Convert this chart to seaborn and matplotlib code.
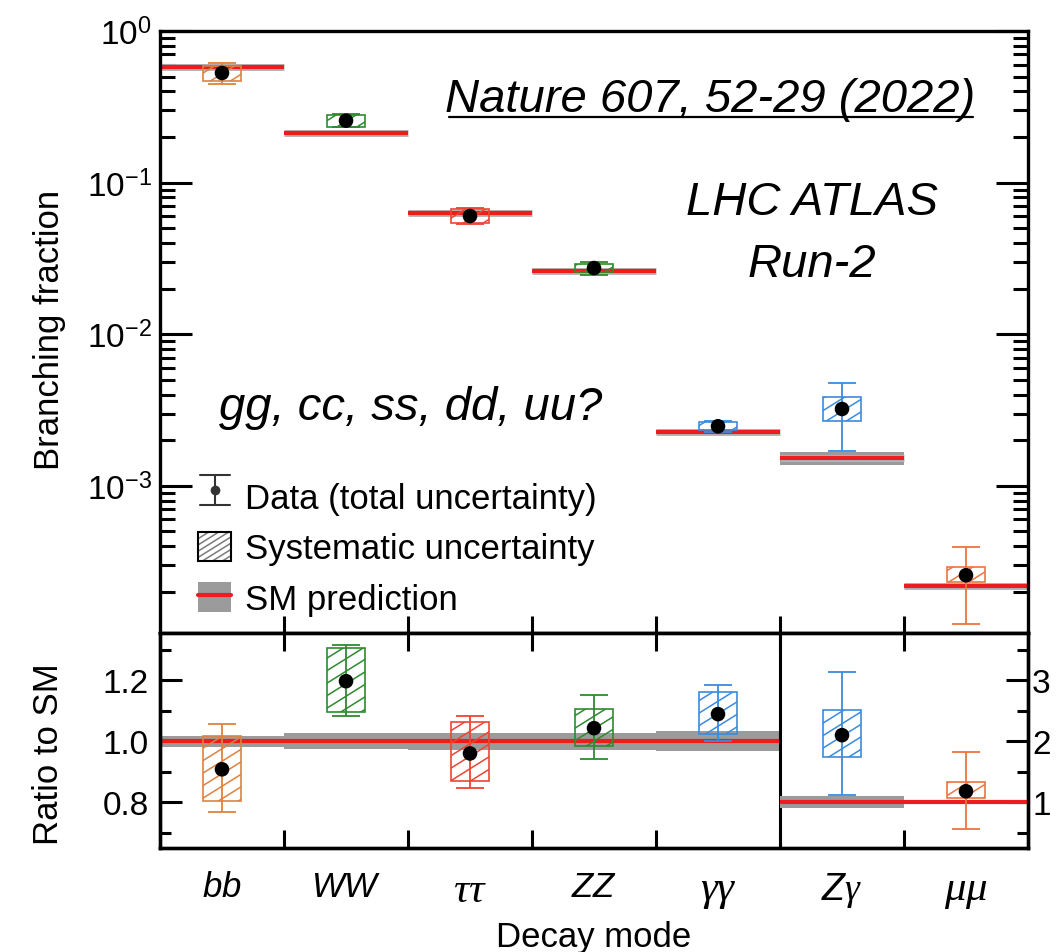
import numpy as np
import pandas as pd
import matplotlib
matplotlib.use("Agg")
import matplotlib.pyplot as plt
import matplotlib.patheffects as pe
import matplotlib.hatch as mhatch
import seaborn as sns
from matplotlib.path import Path
from matplotlib.lines import Line2D
from matplotlib.patches import Patch
from matplotlib.legend_handler import HandlerTuple
from matplotlib.ticker import FixedLocator, LogLocator, NullFormatter

# Decay modes and the colour used for each measurement
modes = ["bb", "WW", "ττ", "ZZ", "γγ", "Zγ", "μμ"]
mode_labels = [r"$\mathsf{bb}$", r"$\mathsf{WW}$", r"$\tau\tau$", r"$\mathsf{ZZ}$",
               r"$\gamma\gamma$", r"$\mathsf{Z}\gamma$", r"$\mu\mu$"]
mode_label_sizes = [25, 25, 31, 25, 31, 27, 31]
mode_colors = ["#DE8240", "#2E8B2E", "#EE4433", "#2E8B2E", "#3B8BDD", "#3B8BDD", "#EC7442"]

# Standard Model branching fractions and relative theory uncertainties
sm_br = [0.582, 0.214, 0.0627, 0.0262, 0.00227, 0.00153, 0.000218]
sm_rel_unc = [0.018, 0.026, 0.028, 0.028, 0.033, 0.10, 0.017]

# Measured ratio to SM: central value, total and systematic intervals
mu = [0.908, 1.197, 0.960, 1.043, 1.089, 2.10, 1.18]
mu_tot_lo = [0.767, 1.082, 0.846, 0.941, 1.000, 1.115, 0.56]
mu_tot_hi = [1.056, 1.315, 1.082, 1.151, 1.184, 3.13, 1.82]
mu_sys_lo = [0.803, 1.095, 0.869, 0.984, 1.023, 1.75, 1.07]
mu_sys_hi = [1.016, 1.305, 1.062, 1.105, 1.161, 2.51, 1.34]

# Tick values / labels
br_ticks = [1, 0.1, 0.01, 0.001]
br_tick_labels = [r"$10^{0}$", r"$10^{-1}$", r"$10^{-2}$", r"$10^{-3}$"]
ratio_ticks_left = [0.8, 1.0, 1.2]
ratio_minor_left = [0.7, 0.9, 1.1, 1.3]
ratio_ticks_right = [1, 2, 3]
ratio_minor_right = [0.5, 1.5, 2.5, 3.5]

N_LEFT = 5  # modes shown against the left ratio scale

df = pd.DataFrame({
    "mode": modes, "color": mode_colors, "pos": np.arange(len(modes)),
    "sm": sm_br, "sm_unc": sm_rel_unc, "mu": mu,
    "tot_lo": mu_tot_lo, "tot_hi": mu_tot_hi,
    "sys_lo": mu_sys_lo, "sys_hi": mu_sys_hi,
})
# measured branching fraction = ratio x SM prediction
for col in ["mu", "tot_lo", "tot_hi", "sys_lo", "sys_hi"]:
    df["br_" + col] = df[col] * df["sm"]


# Shallower "/" hatch (slope 5/8 instead of 45 degrees)
class ShallowNorthEastHatch(mhatch.HatchPatternBase):
    SLOPE = 5 / 8

    def __init__(self, hatch, density):
        count = hatch.count("/") + hatch.count("x") + hatch.count("X")
        n = int(round(count * density * 2 / 3))
        self.n = 8 * int(np.ceil(n / 8)) if n else 0
        if self.n:
            self.k0 = -int(np.ceil(self.SLOPE * self.n))
            self.num_lines = self.n - self.k0 + 1
        else:
            self.k0 = 0
            self.num_lines = 0
        self.num_vertices = self.num_lines * 2

    def set_vertices_and_codes(self, vertices, codes):
        c = np.arange(self.k0, self.n + 1) / self.n
        vertices[0::2, 0] = 0.0
        vertices[0::2, 1] = c
        vertices[1::2, 0] = 1.0
        vertices[1::2, 1] = c + self.SLOPE
        codes[0::2] = Path.MOVETO
        codes[1::2] = Path.LINETO


mhatch._hatch_types = [ShallowNorthEastHatch if t is mhatch.NorthEastHatch else t
                       for t in mhatch._hatch_types]

RED = "#EE1C1C"
GRAY = "#9B9B9B"
BOX_W = 0.30
SPINE_W = 2.4

sns.set_theme(style="ticks", rc={
    "axes.edgecolor": "black", "xtick.color": "black", "ytick.color": "black",
    "text.color": "black", "axes.labelcolor": "black", "hatch.linewidth": 1.1,
})
plt.rcParams["font.family"] = ["Liberation Sans", "DejaVu Sans"]
plt.rcParams["mathtext.fontset"] = "custom"
plt.rcParams["mathtext.rm"] = "Liberation Sans"
plt.rcParams["mathtext.sf"] = "Liberation Sans:italic"
plt.rcParams["mathtext.it"] = "Liberation Serif:italic"

fig = plt.figure(figsize=(10.64, 9.53), dpi=100)
ax = fig.add_axes([160 / 1064, 1 - 634 / 953, 868 / 1064, 602 / 953])
axr = fig.add_axes([160 / 1064, 1 - 849 / 953, 868 / 1064, 215 / 953])
axr2 = axr.twinx()


def draw_sm(axis, d, ratio=False, stroke=False):
    for _, r in d.iterrows():
        c = 1.0 if ratio else r["sm"]
        axis.fill_between([r.pos - 0.5, r.pos + 0.5], c * (1 - r.sm_unc), c * (1 + r.sm_unc),
                          color=GRAY, lw=0, zorder=1)
        effects = [pe.Stroke(linewidth=5, foreground="#B5B5B5"), pe.Normal()] if stroke else None
        axis.hlines(c, r.pos - 0.5, r.pos + 0.5, color=RED, lw=3, zorder=2, path_effects=effects)


def draw_meas(axis, d, prefix=""):
    for _, r in d.iterrows():
        v = r[prefix + "mu"]
        slo, shi = r[prefix + "sys_lo"], r[prefix + "sys_hi"]
        tlo, thi = r[prefix + "tot_lo"], r[prefix + "tot_hi"]
        axis.bar(r.pos, shi - slo, bottom=slo, width=BOX_W, fill=False, hatch="//",
                 edgecolor=r.color, linewidth=1.2, zorder=3)
        axis.errorbar([r.pos], [v], yerr=[[v - tlo], [thi - v]], fmt="none",
                      ecolor=r.color, elinewidth=1.3, capsize=10, capthick=1.3, zorder=3)
    sns.scatterplot(data=d, x="pos", y=prefix + "mu", ax=axis, color="black", s=110,
                    edgecolor="none", zorder=5, legend=False)


# ---- upper panel: branching fractions ----
draw_sm(ax, df, stroke=True)
draw_meas(ax, df, prefix="br_")
ax.set_yscale("log")
ax.set_ylim(1.07e-4, 1)
ax.set_xlim(-0.5, len(modes) - 0.5)
ax.yaxis.set_major_locator(FixedLocator(br_ticks))
ax.set_yticklabels(br_tick_labels)
ax.yaxis.set_minor_locator(LogLocator(base=10, subs=np.arange(2, 10)))
ax.yaxis.set_minor_formatter(NullFormatter())
ax.tick_params(axis="y", which="major", direction="in", length=23, width=2.2,
               left=True, right=True, labelsize=24, pad=6)
ax.tick_params(axis="y", which="minor", direction="in", length=11, width=2.2,
               left=True, right=True)
ax.set_xticks(np.arange(len(modes) - 1) + 0.5)
ax.tick_params(axis="x", which="major", direction="in", length=12, width=2.2,
               bottom=True, top=False, labelbottom=False)
ax.set_xlabel("")
ax.set_ylabel("Branching fraction", fontsize=25)
ax.yaxis.label.set_va("center")
ax.yaxis.set_label_coords(-0.127, 0.505)

# ---- lower panel: ratio to SM ----
left = df.iloc[:N_LEFT]
right = df.iloc[N_LEFT:]
draw_sm(axr, left, ratio=True)
draw_meas(axr, left)
draw_sm(axr2, right, ratio=True)
draw_meas(axr2, right)

axr.set_xlim(-0.5, len(modes) - 0.5)
axr.set_ylim(0.65, 1.355)
axr2.set_ylim(0.25, 3.775)
axr.axvline(N_LEFT - 0.5, color="black", lw=2.2, zorder=6)

axr.set_yticks(ratio_ticks_left)
axr.set_yticklabels([f"{t:.1f}" for t in ratio_ticks_left])
axr.set_yticks(ratio_minor_left, minor=True)
axr.tick_params(axis="y", which="major", direction="in", length=16, width=2.2,
                left=True, right=False, labelsize=24, pad=8)
axr.tick_params(axis="y", which="minor", direction="in", length=8, width=2.2,
                left=True, right=False)
axr2.set_yticks(ratio_ticks_right)
axr2.set_yticklabels([str(t) for t in ratio_ticks_right])
axr2.set_yticks(ratio_minor_right, minor=True)
axr2.tick_params(axis="y", which="major", direction="in", length=16, width=2.2,
                 left=False, right=True, labelsize=24, pad=3)
axr2.tick_params(axis="y", which="minor", direction="in", length=8, width=2.2,
                 left=False, right=True)
axr2.set_ylabel("")

axr.set_xticks(df["pos"])
axr.set_xticklabels(mode_labels)
for lab, size in zip(axr.get_xticklabels(), mode_label_sizes):
    lab.set_fontsize(size)
axr.set_xticks(np.arange(len(modes) - 1) + 0.5, minor=True)
axr.tick_params(axis="x", which="major", length=0, pad=16)
axr.tick_params(axis="x", which="minor", direction="in", length=13, width=2.2,
                bottom=True, top=True)
axr.set_ylabel("Ratio to SM", fontsize=25)
axr.yaxis.label.set_va("center")
axr.yaxis.set_label_coords(-0.129, 0.442)
axr.set_xlabel("Decay mode", fontsize=25)
axr.xaxis.label.set_va("center")
axr.xaxis.set_label_coords(0.5, -0.41)

for a in (ax, axr, axr2):
    for s in a.spines.values():
        s.set_linewidth(SPINE_W)
        s.set_color("black")


# ---- legend ----
class DataHandler:
    def legend_artist(self, legend, orig_handle, fontsize, handlebox):
        x0, y0 = handlebox.xdescent, handlebox.ydescent
        w, h = handlebox.width, handlebox.height
        cx = x0 + w / 2
        tr = handlebox.get_transform()
        c = "#333333"
        arts = [
            Line2D([cx, cx], [y0, y0 + h], color=c, lw=1.5),
            Line2D([cx - w * 0.45, cx + w * 0.45], [y0, y0], color=c, lw=1.5),
            Line2D([cx - w * 0.45, cx + w * 0.45], [y0 + h, y0 + h], color=c, lw=1.5),
            Line2D([cx], [y0 + h / 2], marker="o", ms=7, color=c, mec="none"),
        ]
        for a in arts:
            a.set_transform(tr)
            handlebox.add_artist(a)
        return arts[0]


class DataKey:
    pass


sys_key = (Patch(facecolor="white", edgecolor="#7A7A7A", hatch="////", lw=0),
           Patch(fill=False, edgecolor="black", lw=1.5))
sm_key = (Patch(facecolor=GRAY, edgecolor="none"), Line2D([], [], color=RED, lw=3))
ax.legend([DataKey(), sys_key, sm_key],
          ["Data (total uncertainty)", "Systematic uncertainty", "SM prediction"],
          handler_map={DataKey: DataHandler(), tuple: HandlerTuple(ndivide=1, pad=0)},
          loc="upper left", bbox_to_anchor=(0.044, 0.252), frameon=False, fontsize=25,
          handlelength=0.95, handleheight=0.95, handletextpad=0.4, labelspacing=0.47,
          borderaxespad=0, borderpad=0)

# ---- annotations ----
W, H = 1064, 953
ref = fig.text(710 / W, 1 - 112 / H, "Nature 607, 52-29 (2022)", fontsize=34,
               fontstyle="italic", ha="center", va="baseline")
fig.canvas.draw()
bb = ref.get_window_extent(renderer=fig.canvas.get_renderer())
bbf = bb.transformed(fig.transFigure.inverted())
fig.add_artist(Line2D([bbf.x0 + 0.004, bbf.x1 - 0.002], [1 - 118 / H, 1 - 118 / H],
                      transform=fig.transFigure, color="black", lw=1.6))
fig.text(812 / W, 1 - 215 / H, "LHC ATLAS", fontsize=34, fontstyle="italic",
         ha="center", va="baseline")
fig.text(812 / W, 1 - 277 / H, "Run-2", fontsize=34, fontstyle="italic",
         ha="center", va="baseline")
fig.text(411 / W, 1 - 420 / H, "gg, cc, ss, dd, uu?", fontsize=34, fontstyle="italic",
         ha="center", va="baseline")

fig.savefig("out.png", dpi=100)
